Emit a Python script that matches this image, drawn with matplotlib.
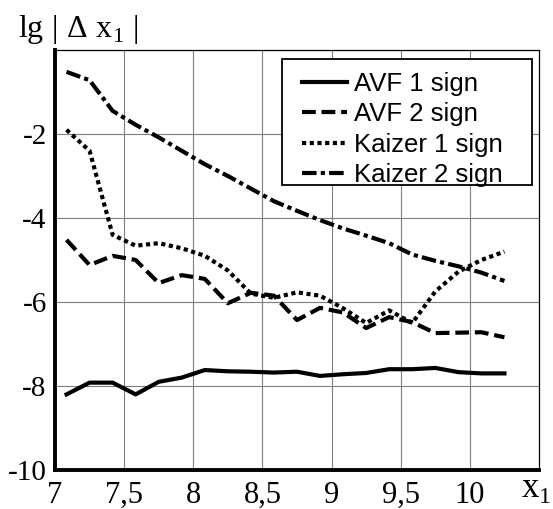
import matplotlib.pyplot as plt
from matplotlib.patches import Rectangle
import numpy as np

# x points (step 1/6) and the four curves
x1 = 7.0 + (np.arange(20) + 0.5) / 6.0
avf_1 = [-8.2, -7.92, -7.92, -8.2, -7.9, -7.8, -7.62, -7.65, -7.66, -7.68,
         -7.66, -7.76, -7.72, -7.69, -7.6, -7.6, -7.57, -7.67, -7.7, -7.7]
avf_2 = [-4.52, -5.12, -4.9, -5.0, -5.55, -5.36, -5.45, -6.03, -5.78, -5.85,
         -6.43, -6.14, -6.25, -6.62, -6.36, -6.48, -6.74, -6.73, -6.72, -6.84]
kaizer_1 = [-1.9, -2.4, -4.4, -4.66, -4.6, -4.72, -4.9, -5.25, -5.8, -5.9,
            -5.77, -5.85, -6.15, -6.5, -6.2, -6.5, -5.75, -5.28, -5.0, -4.8]
kaizer_2 = [-0.52, -0.72, -1.45, -1.78, -2.08, -2.4, -2.72, -3.0, -3.3, -3.6,
            -3.83, -4.05, -4.25, -4.42, -4.6, -4.87, -5.02, -5.15, -5.3, -5.5]
labels = ['AVF 1 sign', 'AVF 2 sign', 'Kaizer 1 sign', 'Kaizer 2 sign']

xticks = [7, 7.5, 8, 8.5, 9, 9.5, 10]
xtick_labels = ['7', '7,5', '8', '8,5', '9', '9,5', '10']
yticks = [-10, -8, -6, -4, -2]
ytick_labels = ['-10', '-8', '-6', '-4', '-2']

plt.rcParams['mathtext.fontset'] = 'custom'
plt.rcParams['mathtext.rm'] = 'Liberation Serif'

fig = plt.figure(figsize=(5.53, 5.09), dpi=100)
ax = fig.add_axes([55 / 553, 39 / 509, 484 / 553, 420 / 509])

lw = 3.0
styles = ['-', (0, (3.3, 1.4)), (0, (1.0, 0.85)), (0, (3.5, 1.0, 1.0, 1.0))]
for ys, ls, lab in zip([avf_1, avf_2, kaizer_1, kaizer_2], styles, labels):
    ax.plot(x1, ys, color='black', lw=lw, linestyle=ls, label=lab)

ax.set_xlim(7, 10.5)
ax.set_ylim(-10, 0)
ax.set_xticks(xticks)
ax.set_xticklabels(xtick_labels, family='Liberation Serif', fontsize=22)
ax.set_yticks(yticks)
ax.set_yticklabels(ytick_labels, family='Liberation Serif', fontsize=21)
# the 10.5 / 0 grid lines are the frame itself
ax.grid(True, color='#7f7f7f', lw=0.8)
ax.tick_params(length=0)
ax.tick_params(axis='x', pad=8)
ax.tick_params(axis='y', pad=6)

ax.spines['left'].set_linewidth(2.8)
ax.spines['bottom'].set_linewidth(2.8)
ax.spines['top'].set_linewidth(0.9)
ax.spines['right'].set_linewidth(0.9)

# legend frame drawn separately, the legend itself has no frame
ax.add_patch(Rectangle((0.469, 0.679), 0.5165, 0.3, transform=ax.transAxes,
                       fill=True, facecolor='white', edgecolor='black',
                       lw=1.3, zorder=4))
leg = ax.legend(loc='upper left', bbox_to_anchor=(0.511, 0.947),
                prop={'family': 'Liberation Sans', 'size': 18.5},
                handlelength=1.75, handletextpad=0.25, labelspacing=0.24,
                borderpad=0.0, borderaxespad=0.0, frameon=False)
leg.set_zorder(5)

fig.text(18 / 553, 1 - 37 / 509,
         r'$\mathrm{lg}\;|\;\Delta\;\mathrm{x}_1\;|$',
         fontsize=23, va='baseline', ha='left')
fig.text(521 / 553, 12 / 509, r'$\mathrm{x}_1$', fontsize=25,
         va='baseline', ha='left')

fig.savefig('out.png', dpi=100)
